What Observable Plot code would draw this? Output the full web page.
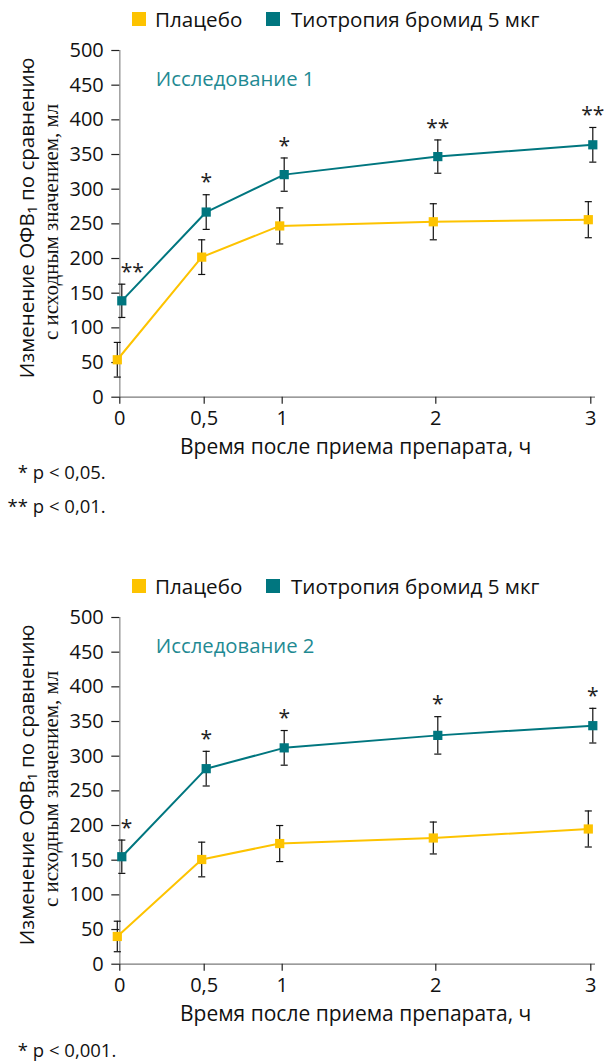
<!DOCTYPE html>
<html>
<head>
<meta charset="utf-8">
<script src="https://cdn.jsdelivr.net/npm/d3@7"></script>
<script src="https://cdn.jsdelivr.net/npm/@observablehq/plot@0.6"></script>
<style>
  html, body { margin: 0; padding: 0; background: #fff; }
  #page { position: relative; width: 611px; height: 1061px; font-family: "Open Sans", sans-serif; color: #111; }
  .legend { position: absolute; left: 0; height: 20px; width: 611px; font-size: 20.6px; line-height: 20px; }
  .legend .sw { position: absolute; width: 14px; height: 14px; top: 3px; }
  .legend .lb { position: absolute; top: 0; white-space: nowrap; }
  .panel { position: absolute; left: 0; }
  .note { position: absolute; left: 0; font-size: 18.5px; line-height: 20px; white-space: nowrap; }
  .note .ast { display: inline-block; width: 28px; text-align: right; }
</style>
</head>
<body>
<div id="page"></div>
<script>
// Time after dosing (hours) and the axis labels used for it
const timesH = [0, 0.5, 1, 2, 3];
const xTickLabels = ["0", "0,5", "1", "2", "3"];
const yTicks = [0, 50, 100, 150, 200, 250, 300, 350, 400, 450, 500];

// Series names and colours
const seriesNames = ["Плацебо", "Тиотропия бромид 5 мкг"];
const seriesColors = ["#FDC300", "#00767F"];

// Study 1: mean change in FEV1 (ml) and error half-widths
const study1Title = "Исследование 1";
const placebo1 = [54, 202, 247, 253, 256];
const placebo1Err = [25, 25, 26, 26, 26];
const tio1 = [139, 267, 321, 347, 364];
const tio1Err = [24, 25, 24, 24, 25];
const stars1 = ["**", "*", "*", "**", "**"];
const notes1 = [["*", "p < 0,05."], ["**", "p < 0,01."]];

// Study 2
const study2Title = "Исследование 2";
const placebo2 = [40, 151, 174, 182, 195];
const placebo2Err = [22, 25, 26, 23, 26];
const tio2 = [155, 282, 312, 330, 344];
const tio2Err = [24, 25, 25, 27, 25];
const stars2 = ["*", "*", "*", "*", "*"];
const notes2 = [["*", "p < 0,001."]];

const yLabel1 = "Изменение ОФВ\u2081 по сравнению";
const yLabel2 = "с исходным значением, мл";
const xLabel = "Время после приема препарата, ч";

const tealText = "#1F8A93";
const ink = "#111";
const page = document.getElementById("page");

// horizontal cap for error bars
const capSymbol = {
  draw(ctx, size) {
    const w = Math.sqrt(size) / 2;
    ctx.moveTo(-w, 0);
    ctx.lineTo(w, 0);
  }
};

function drawPanel({top, title, placebo, placeboErr, tio, tioErr, stars, notes, noteTop}) {
  // legend
  const legend = document.createElement("div");
  legend.className = "legend";
  legend.style.top = (top + 9) + "px";
  const swX = [132, 266], lbX = [155, 291];
  seriesNames.forEach((name, k) => {
    const sw = document.createElement("div");
    sw.className = "sw";
    sw.style.left = swX[k] + "px";
    sw.style.background = seriesColors[k];
    legend.appendChild(sw);
    const lb = document.createElement("div");
    lb.className = "lb";
    lb.style.left = lbX[k] + "px";
    lb.textContent = name;
    legend.appendChild(lb);
  });
  page.appendChild(legend);

  const pRows = placebo.map((v, i) => ({t: timesH[i], v, lo: v - placeboErr[i], hi: v + placeboErr[i], i}));
  const tRows = tio.map((v, i) => ({t: timesH[i], v, lo: v - tioErr[i], hi: v + tioErr[i], star: stars[i], i}));
  const dP = -2.5, dT = 2;

  const svgTop = top + 36;
  const height = 430;
  const chart = Plot.plot({
    width: 611,
    height,
    marginTop: 50 - 36,
    marginBottom: height - (396.7 - 36),
    marginLeft: 119.3,
    marginRight: 16,
    style: {fontFamily: "\"Open Sans\", sans-serif", fontSize: "20px", color: ink, background: "transparent"},
    x: {type: "linear", domain: timesH, range: [119.3, 203.7, 281.7, 435.3, 590.3]},
    y: {domain: [0, 500]},
    marks: [
      Plot.ruleX([0], {y1: 0, y2: 500, stroke: "#a4a4a4", strokeWidth: 1.6}),
      Plot.ruleY([0], {stroke: "#7a7a7a", strokeWidth: 1.3}),
      Plot.axisY({ticks: yTicks, tickSize: 8, tickPadding: 8, fontSize: 20, label: null, stroke: "#222", strokeWidth: 1.2, fill: ink}),
      Plot.axisX({ticks: timesH, tickFormat: d => xTickLabels[timesH.indexOf(d)], tickSize: 7, tickPadding: 7, fontSize: 20, label: null, stroke: "#222", strokeWidth: 1.2, fill: ink}),
      Plot.text([xLabel], {frameAnchor: "bottom", lineAnchor: "top", dy: 42, dx: -2, fontSize: 21, fill: ink}),
      Plot.text([yLabel1], {frameAnchor: "left", rotate: -90, textAnchor: "middle", lineAnchor: "middle", dx: -92, dy: -6, fontSize: 20.5, fill: ink}),
      Plot.text([yLabel2], {frameAnchor: "left", rotate: -90, textAnchor: "middle", lineAnchor: "middle", dx: -69, dy: -2, fontSize: 21, fontFamily: "Liberation Serif, serif", fill: ink}),
      Plot.text([title], {frameAnchor: "top-left", textAnchor: "start", lineAnchor: "top", dx: 36, dy: 21, fontSize: 20.3, fill: tealText}),
      // lines
      Plot.line(pRows, {x: "t", y: "v", stroke: seriesColors[0], strokeWidth: 2, dx: dP}),
      Plot.line(tRows, {x: "t", y: "v", stroke: seriesColors[1], strokeWidth: 2, dx: dT}),
      // error bars
      Plot.ruleX(pRows, {x: "t", y1: "lo", y2: "hi", stroke: ink, strokeWidth: 1.2, dx: dP}),
      Plot.ruleX(tRows, {x: "t", y1: "lo", y2: "hi", stroke: ink, strokeWidth: 1.2, dx: dT}),
      Plot.dot(pRows, {x: "t", y: "lo", symbol: capSymbol, r: 4, stroke: ink, strokeWidth: 1.2, fill: "none", dx: dP}),
      Plot.dot(pRows, {x: "t", y: "hi", symbol: capSymbol, r: 4, stroke: ink, strokeWidth: 1.2, fill: "none", dx: dP}),
      Plot.dot(tRows, {x: "t", y: "lo", symbol: capSymbol, r: 4, stroke: ink, strokeWidth: 1.2, fill: "none", dx: dT}),
      Plot.dot(tRows, {x: "t", y: "hi", symbol: capSymbol, r: 4, stroke: ink, strokeWidth: 1.2, fill: "none", dx: dT}),
      // markers
      Plot.dot(pRows, {x: "t", y: "v", symbol: "square", r: 5.2, fill: seriesColors[0], stroke: "none", dx: dP}),
      Plot.dot(tRows, {x: "t", y: "v", symbol: "square", r: 5.2, fill: seriesColors[1], stroke: "none", dx: dT}),
      // significance marks
      Plot.text(tRows.filter(d => d.i === 0), {x: "t", y: "hi", text: "star", textAnchor: "start", lineAnchor: "middle", dx: dT - 1, dy: -12, fontSize: 21, fill: "#222"}),
      Plot.text(tRows.filter(d => d.i > 0), {x: "t", y: "hi", text: "star", textAnchor: "middle", lineAnchor: "middle", dx: dT, dy: -12, fontSize: 21, fill: "#222"})
    ]
  });
  const wrap = document.createElement("div");
  wrap.className = "panel";
  wrap.style.top = svgTop + "px";
  wrap.appendChild(chart);
  page.appendChild(wrap);

  notes.forEach(([a, txt], k) => {
    const n = document.createElement("div");
    n.className = "note";
    n.style.top = (noteTop + k * 34) + "px";
    const s = document.createElement("span");
    s.className = "ast";
    s.textContent = a;
    n.appendChild(s);
    n.appendChild(document.createTextNode(" " + txt));
    page.appendChild(n);
  });
}

drawPanel({top: 0, title: study1Title, placebo: placebo1, placeboErr: placebo1Err, tio: tio1, tioErr: tio1Err, stars: stars1, notes: notes1, noteTop: 462});
drawPanel({top: 566.5, title: study2Title, placebo: placebo2, placeboErr: placebo2Err, tio: tio2, tioErr: tio2Err, stars: stars2, notes: notes2, noteTop: 1040});
</script>
</body>
</html>
